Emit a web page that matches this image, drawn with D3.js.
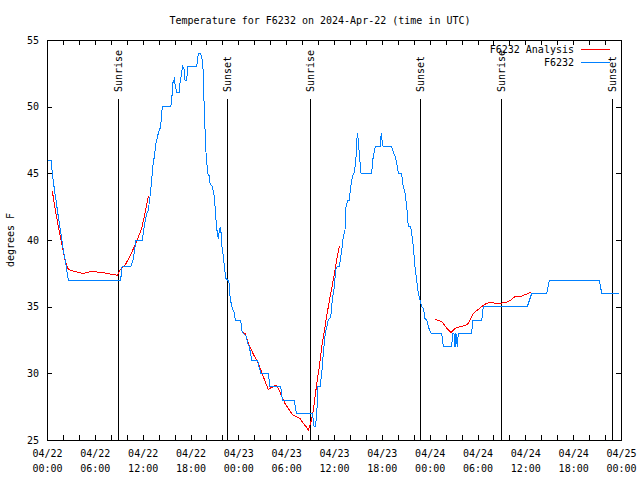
<!DOCTYPE html>
<html>
<head>
<meta charset="utf-8">
<script src="https://cdn.jsdelivr.net/npm/d3@7"></script>
<style>
  html, body { margin: 0; padding: 0; background: #fff; }
  svg { display: block; }
  text { font-family: "DejaVu Sans Mono", "Liberation Mono", monospace; font-size: 10px; fill: #000; }
</style>
</head>
<body>
<svg id="chart" width="640" height="480"></svg>
<script>
// ---- data (hours since 2024-04-22 00:00 UTC) ----
const titleText = "Temperature for F6232 on 2024-Apr-22 (time in UTC)";
const yLabel = "degrees F";
const seriesNames = ["F6232 Analysis", "F6232"];
const yTicks = [25, 30, 35, 40, 45, 50, 55];
const xTickHours = d3.range(0, 73, 2);
const xLabelHours = d3.range(0, 73, 6);

const obsHours = [0.16,0.50,0.63,0.79,1.00,1.22,1.42,1.63,1.84,2.04,2.26,2.47,2.67,9.24,9.41,10.50,10.8,11.13,11.17,11.95,12.2,12.5,12.7,12.92,13.13,13.26,13.46,13.67,13.96,14.26,14.46,15.52,15.64,15.77,15.97,16.14,16.26,16.6,16.68,16.9,17.02,17.19,17.31,17.52,17.65,18.78,18.98,19.28,19.48,19.61,19.73,19.95,20.16,20.36,20.45,20.74,20.99,21.2,21.36,21.49,21.61,21.74,21.86,21.95,22.12,22.29,22.45,22.67,22.87,22.96,23.17,23.46,23.62,24.3,24.42,24.62,24.96,25.18,25.38,25.68,26.43,26.59,26.84,27.76,27.97,29.31,29.52,31.02,31.27,33.33,33.41,33.53,33.62,33.83,33.96,34.25,34.46,34.66,34.91,35.29,35.59,35.79,36.04,36.21,36.42,36.67,36.97,37.17,37.38,37.51,37.72,37.92,38.1,38.3,38.51,38.72,38.92,39.05,39.17,39.39,40.73,40.86,41.02,41.18,41.77,41.93,42.11,42.19,43.24,43.44,43.65,43.87,44.07,44.49,44.62,44.91,45.12,45.32,45.6,45.75,45.95,46.16,46.37,46.58,46.79,47.0,47.2,47.42,47.63,47.83,48.17,49.51,49.71,50.76,50.89,51.05,51.18,51.3,51.47,51.59,53.27,53.4,54.53,54.73,60.25,60.8,62.68,63.01,69.28,69.58,71.75];
const obsTemps = [46,46,45.25,44.4,43.5,42.6,41.75,40.9,40.1,39.25,38.6,37.75,37,37,38,38,38.5,39.8,40,40,41,42,42.2,43.25,44.5,45.5,46.25,47.25,48,48.5,50,50,50.4,51.75,52.05,51.4,51.1,51.1,51.75,52.6,53,52.8,52,52,53,53,54,54,53.5,52.5,49.6,46.5,45,44.8,44.25,44,43.25,41.5,40.5,40.1,40.7,41,40.4,39.5,38.75,37.75,37.1,37,36.75,35.75,35,34.6,34,34,33.25,33,32.8,32.25,32,31,31,30.5,30,30,29,29,28,28,27,27,26.25,26,26,26.75,29,29,30,31.5,33,34,34.2,35.5,36.5,37.75,38,38,39.25,40.25,40.75,42.5,43,43,44,44.75,45,45.75,48,47.5,46.5,45,45,46,46.5,47,47,48,47.1,47,47,46.6,46.3,45.75,45,45,44.25,43.5,42.5,41,41,40.5,39.5,38,37,36,35.5,35,34.9,34.1,34,33.5,33,33,32,32,33,33,32,33,32,33,33,34,34,35,35,36,36,37,37,36,36];

// analysis series: null marks a gap
const anaHours = [0.66,1.0,1.42,1.84,2.26,2.67,3.1,3.73,4.48,4.98,5.61,6.23,7.06,7.9,8.53,8.82,9.16,9.78,10.41,11.04,11.45,11.88,12.29,12.71,
  null,
  24.42,24.84,25.25,25.59,26.0,26.51,26.93,27.35,27.76,28.19,28.73,29.01,29.44,29.85,30.39,30.82,31.32,31.74,32.15,32.49,32.78,33.12,33.41,33.62,33.91,34.16,34.46,34.75,35.0,35.29,35.59,35.91,36.13,36.34,36.63,36.75,
  null,
  48.67,49.08,49.51,49.92,50.34,50.68,50.97,51.3,51.81,52.22,52.72,53.06,53.48,53.9,54.32,54.73,55.16,55.78,56.2,56.82,57.45,58.08,58.7,59.55,59.96,60.37,60.71];
const anaTemps = [43.7,42.4,41,39.75,38.5,37.8,37.7,37.6,37.5,37.55,37.65,37.6,37.55,37.45,37.4,37.35,37.75,38.1,38.8,39.6,40.2,40.9,42,43.3,
  null,
  33.1,33,32.25,31.8,31.3,30.75,30.1,29.4,28.8,28.95,29.1,28.9,28.25,27.75,27.25,26.9,26.75,26.6,26.25,26,25.75,26.4,27.25,28.25,29.5,30.5,32,33,34,35,36,37,37.75,38.5,39.4,39.5,
  null,
  34.05,33.95,33.9,33.55,33.25,33.05,33.25,33.4,33.5,33.55,33.65,34,34.5,34.7,34.9,35.1,35.25,35.35,35.25,35.25,35.3,35.45,35.75,35.8,35.9,36,36.1];

const sunEventHours = [8.97, 22.7, 32.99, 46.79, 56.95, 70.88];
const sunEventNames = ["Sunrise", "Sunset", "Sunrise", "Sunset", "Sunrise", "Sunset"];

// ---- drawing ----
const base = Date.UTC(2024, 3, 22);
const toDate = h => new Date(base + h * 3600e3);

const L = 47, R = 621, T = 40, B = 440;
const x = d3.scaleUtc().domain([toDate(0), toDate(72)]).range([L, R]);
const y = d3.scaleLinear().domain([25, 55]).range([B, T]);

const svg = d3.select("#chart");

// title
svg.append("text").attr("x", 320).attr("y", 24).attr("text-anchor", "middle").text(titleText);

// y label
svg.append("text").attr("transform", "translate(10,240) rotate(-90)")
  .attr("text-anchor", "middle").attr("dy", "0.35em").text(yLabel);

// axes
const fmtD = d3.utcFormat("%m/%d"), fmtT = d3.utcFormat("%H:%M");
const labelSet = new Set(xLabelHours.map(h => +toDate(h)));

const xAxisB = d3.axisBottom(x).tickValues(xTickHours.map(toDate))
  .tickSizeInner(-5).tickSizeOuter(0).tickPadding(8).tickFormat(() => "");
const gxb = svg.append("g").attr("transform", `translate(0,${B})`).call(xAxisB);
gxb.selectAll(".tick").filter(d => labelSet.has(+d)).each(function(d) {
  const t = d3.select(this).append("text").attr("fill", "#000").attr("text-anchor", "middle");
  t.append("tspan").attr("x", 0).attr("y", 17).text(fmtD(d));
  t.append("tspan").attr("x", 0).attr("y", 32).text(fmtT(d));
});
const xAxisT = d3.axisTop(x).tickValues(xTickHours.map(toDate))
  .tickSizeInner(-5).tickSizeOuter(0).tickFormat(() => "");
svg.append("g").attr("transform", `translate(0,${T})`).call(xAxisT);

const yAxisL = d3.axisLeft(y).tickValues(yTicks).tickSizeInner(-5).tickSizeOuter(0).tickPadding(8);
svg.append("g").attr("transform", `translate(${L},0)`).call(yAxisL);
const yAxisR = d3.axisRight(y).tickValues(yTicks).tickSizeInner(-5).tickSizeOuter(0).tickFormat(() => "");
svg.append("g").attr("transform", `translate(${R},0)`).call(yAxisR);

svg.selectAll(".domain").remove();
svg.selectAll(".tick line").attr("stroke", "#000").attr("shape-rendering", "crispEdges");
svg.selectAll("g").attr("font-family", null).attr("font-size", null);

// frame
svg.append("rect").attr("x", L).attr("y", T).attr("width", R - L).attr("height", B - T)
  .attr("fill", "none").attr("stroke", "#000").attr("shape-rendering", "crispEdges");

// sun events
sunEventHours.forEach((h, i) => {
  const xp = x(toDate(h));
  svg.append("line").attr("x1", xp).attr("x2", xp).attr("y1", 99).attr("y2", B)
    .attr("stroke", "#000").attr("shape-rendering", "crispEdges");
  svg.append("text").attr("transform", `translate(${xp},92) rotate(-90)`)
    .attr("text-anchor", "start").attr("dy", "0.35em").text(sunEventNames[i]);
});

// series
const obs = obsHours.map((h, i) => [h, obsTemps[i]]);
const ana = anaHours.map((h, i) => [h, anaTemps[i]]);
const line = d3.line().defined(d => d[0] !== null && d[1] !== null)
  .x(d => x(toDate(d[0]))).y(d => y(d[1]));

svg.append("path").datum(ana).attr("d", line).attr("fill", "none")
  .attr("stroke", "#ff0000").attr("stroke-width", 1).attr("shape-rendering", "crispEdges");
svg.append("path").datum(obs).attr("d", line).attr("fill", "none")
  .attr("stroke", "#0080ff").attr("stroke-width", 1).attr("shape-rendering", "crispEdges");

// legend
const legendColors = ["#ff0000", "#0080ff"];
seriesNames.forEach((name, i) => {
  const ly = 49.5 + i * 13;
  svg.append("text").attr("x", 574).attr("y", ly).attr("dy", "0.35em")
    .attr("text-anchor", "end").text(name);
  svg.append("line").attr("x1", 581).attr("x2", 610).attr("y1", ly).attr("y2", ly)
    .attr("stroke", legendColors[i]).attr("shape-rendering", "crispEdges");
});
</script>
</body>
</html>
